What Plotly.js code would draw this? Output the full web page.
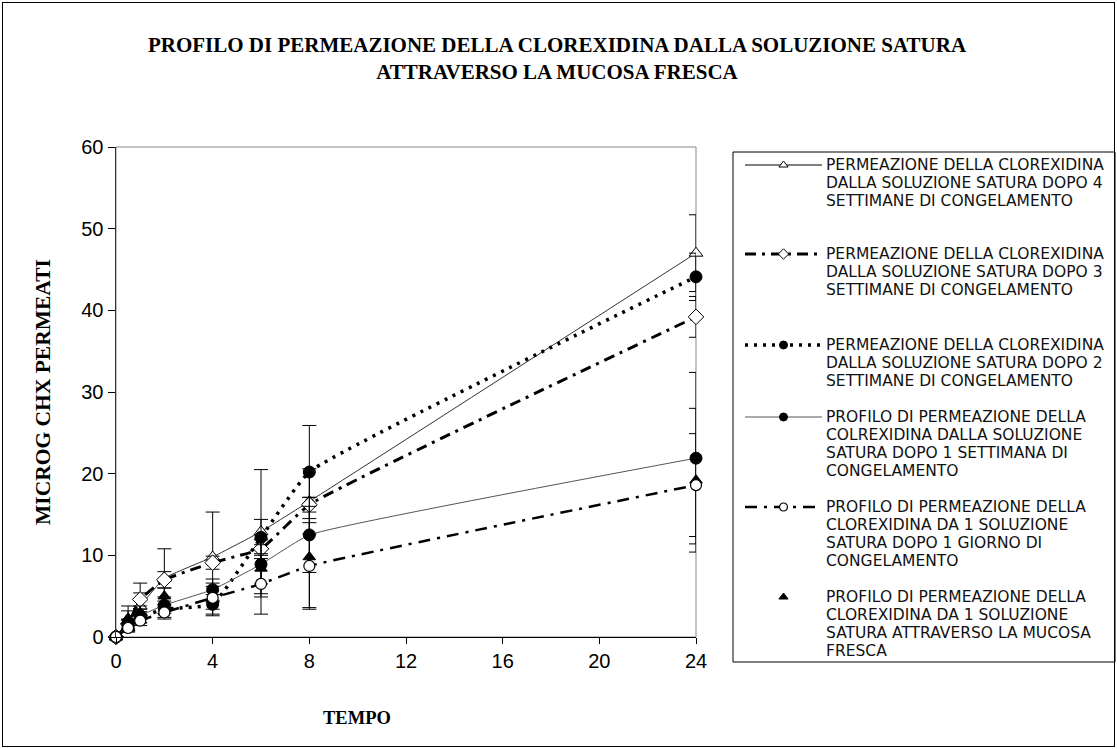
<!DOCTYPE html>
<html>
<head>
<meta charset="utf-8">
<script src="https://cdn.plot.ly/plotly-3.0.1.min.js"></script>
<style>
  html, body { margin: 0; padding: 0; background: #fff; }
  #wrap { position: relative; width: 1117px; height: 749px; }
  #chart { width: 1117px; height: 749px; }
  #frame { position: absolute; left: 2px; top: 2px; width: 1111px; height: 743px;
           border: 1px solid #000; pointer-events: none; }
</style>
</head>
<body>
<div id="wrap">
  <div id="chart"></div>
  <div id="frame"></div>
</div>
<script>
// Sampling times (hours)
const tempo = [0, 0.5, 1, 2, 4, 6, 8, 24];

// Permeated chlorhexidine (microg) and standard deviations per condition
const dopo4Settimane    = [0, 2.0, 3.8, 7.2, 9.8, 12.9, 16.6, 47.0];
const dopo4SettimaneSD  = [0, 1.2, 1.6, 3.6, 5.5, 7.6, 4.0, 4.7];
const dopo3Settimane    = [0, 1.6, 4.6, 7.0, 9.1, 10.8, 16.2, 39.2];
const dopo3SettimaneSD  = [0, 0.6, 2.0, 1.0, 0.8, 1.2, 0.9, 2.5];
const dopo2Settimane    = [0, 1.2, 2.4, 3.4, 4.0, 12.2, 20.2, 44.1];
const dopo2SettimaneSD  = [0, 0.5, 0.7, 1.0, 1.2, 2.2, 5.7, 2.9];
const dopo1Settimana    = [0, 1.5, 2.6, 3.9, 5.8, 8.9, 12.5, 21.9];
const dopo1SettimanaSD  = [0, 0.6, 0.8, 1.0, 1.3, 2.4, 4.6, 10.5];
const dopo1Giorno       = [0, 1.1, 2.0, 3.0, 4.8, 6.5, 8.7, 18.6];
const dopo1GiornoSD     = [0, 0.5, 0.6, 0.8, 1.4, 3.7, 5.3, 6.3];
const mucosaFresca      = [0, 2.3, 3.0, 5.0, 4.6, 8.4, 9.8, 19.2];
const mucosaFrescaSD    = [0, 1.5, 0.8, 1.0, 2.0, 3.5, 6.2, 8.8];

// Legend labels
const etichette = [
  'PERMEAZIONE DELLA CLOREXIDINA<br>DALLA SOLUZIONE SATURA DOPO 4<br>SETTIMANE DI CONGELAMENTO',
  'PERMEAZIONE DELLA CLOREXIDINA<br>DALLA SOLUZIONE SATURA DOPO 3<br>SETTIMANE DI CONGELAMENTO',
  'PERMEAZIONE DELLA CLOREXIDINA<br>DALLA SOLUZIONE SATURA DOPO 2<br>SETTIMANE DI CONGELAMENTO',
  'PROFILO DI PERMEAZIONE DELLA<br>COLREXIDINA DALLA SOLUZIONE<br>SATURA DOPO 1 SETTIMANA DI<br>CONGELAMENTO',
  'PROFILO DI PERMEAZIONE DELLA<br>CLOREXIDINA DA 1 SOLUZIONE<br>SATURA DOPO 1 GIORNO DI<br>CONGELAMENTO',
  'PROFILO DI PERMEAZIONE DELLA<br>CLOREXIDINA DA 1 SOLUZIONE<br>SATURA ATTRAVERSO LA MUCOSA<br>FRESCA'
];

const xTicks = [0, 4, 8, 12, 16, 20, 24];
const yTicks = [0, 10, 20, 30, 40, 50, 60];

// ---- page geometry (pixels) ----
const W = 1117, H = 749;
const M = { l: 116, r: 2, t: 147, b: 80 };
const PW = W - M.l - M.r, PH = H - M.t - M.b;
const px2x = px => (px - M.l) / PW;
const py2y = py => (H - M.b - py) / PH;
const plotRight = 696, plotBottom = 637;

// ---- series styling ----
const SMOOTH = 0.35;
const serie = [
  { y: dopo4Settimane, sd: dopo4SettimaneSD,
    line: { color: '#333', width: 1, dash: 'solid', shape: 'spline', smoothing: SMOOTH },
    marker: { symbol: 'triangle-up', size: 12, color: '#fff', line: { color: '#000', width: 1 } }, lm: 8 },
  { y: dopo3Settimane, sd: dopo3SettimaneSD,
    line: { color: '#000', width: 3, dash: '11px,6px,3px,6px', shape: 'spline', smoothing: SMOOTH },
    marker: { symbol: 'diamond', size: 12, color: '#fff', line: { color: '#000', width: 1 } }, lm: 8 },
  { y: dopo2Settimane, sd: dopo2SettimaneSD,
    line: { color: '#000', width: 3.5, dash: '3px,6px', shape: 'spline', smoothing: SMOOTH },
    marker: { symbol: 'circle', size: 12, color: '#000', line: { color: '#000', width: 1 } }, lm: 8 },
  { y: dopo1Settimana, sd: dopo1SettimanaSD,
    line: { color: '#555', width: 1, dash: 'solid', shape: 'spline', smoothing: SMOOTH },
    marker: { symbol: 'circle', size: 12, color: '#000', line: { color: '#000', width: 1 } }, lm: 8 },
  { y: dopo1Giorno, sd: dopo1GiornoSD,
    line: { color: '#000', width: 2.5, dash: '12px,7px,3px,7px', shape: 'spline', smoothing: SMOOTH },
    marker: { symbol: 'circle', size: 11, color: '#fff', line: { color: '#000', width: 1.2 } }, lm: 8 },
  { y: mucosaFresca, sd: mucosaFrescaSD, line: null,
    marker: { symbol: 'triangle-up', size: 11, color: '#000', line: { color: '#000', width: 1 } }, lm: 8 }
];

// draw order: fresh-mucosa triangles sit under the 1-day open circles
const ordine = [0, 1, 2, 3, 5, 4];

const traces = [];
ordine.forEach(i => {
  const s = serie[i];
  traces.push({
    x: tempo, y: s.y, type: 'scatter',
    mode: s.line ? 'lines+markers' : 'markers',
    line: s.line || undefined,
    marker: s.marker,
    error_y: { type: 'data', array: s.sd, visible: true, color: '#000', thickness: 1, width: 7 },
    cliponaxis: false, showlegend: false, hoverinfo: 'x+y',
    xaxis: 'x', yaxis: 'y'
  });
});

// ---- hand-laid legend: sample strokes on an auxiliary axis pair ----
const righe = [165, 254, 345, 417, 507, 597];   // first text line of each entry
const INTERLINEA = 18;
const annotations = [];
serie.forEach((s, i) => {
  const r = righe[i];
  if (s.line) {
    traces.push({
      x: [0, 1], y: [r, r], xaxis: 'x2', yaxis: 'y2', type: 'scatter', mode: 'lines',
      line: { color: s.line.color === '#333' ? '#000' : s.line.color, width: s.line.width,
              dash: s.line.dash },
      showlegend: false, hoverinfo: 'skip'
    });
  }
  traces.push({
    x: [0.5], y: [r], xaxis: 'x2', yaxis: 'y2', type: 'scatter', mode: 'markers',
    marker: Object.assign({}, s.marker, { size: s.lm }),
    showlegend: false, hoverinfo: 'skip'
  });
  etichette[i].split('<br>').forEach((riga, k) => {
    annotations.push({
      xref: 'paper', yref: 'y2', x: px2x(824), y: r + k * INTERLINEA,
      xanchor: 'left', yanchor: 'middle', align: 'left', showarrow: false,
      text: riga,
      font: { family: 'DejaVu Sans, sans-serif', size: 15.5, color: '#111' }
    });
  });
});

// axis titles
annotations.push({
  xref: 'paper', yref: 'paper', x: px2x(43), y: py2y(392), textangle: -90,
  showarrow: false, xanchor: 'center', yanchor: 'middle',
  text: '<b>MICROG CHX PERMEATI</b>',
  font: { family: 'Liberation Serif, Times New Roman, serif', size: 21.5, color: '#000' }
});
annotations.push({
  xref: 'paper', yref: 'paper', x: px2x(357), y: py2y(718),
  showarrow: false, xanchor: 'center', yanchor: 'middle',
  text: '<b>TEMPO</b>',
  font: { family: 'Liberation Serif, Times New Roman, serif', size: 18.5, color: '#000' }
});

const layout = {
  width: W, height: H,
  margin: M,
  paper_bgcolor: '#fff', plot_bgcolor: 'rgba(0,0,0,0)',
  showlegend: false,
  title: {
    text: '<b>PROFILO DI PERMEAZIONE DELLA CLOREXIDINA DALLA SOLUZIONE SATURA<br>ATTRAVERSO LA MUCOSA FRESCA</b>',
    font: { family: 'Liberation Serif, Times New Roman, serif', size: 21, color: '#000' },
    xref: 'container', yref: 'container', x: 557 / W, xanchor: 'center',
    y: 1 - 52 / H, yanchor: 'top'
  },
  xaxis: {
    domain: [0, px2x(plotRight)], range: [0, 24], tickvals: xTicks,
    showgrid: false, zeroline: false, showline: true, linecolor: '#000', linewidth: 1,
    ticks: 'outside', ticklen: 6, tickcolor: '#000',
    tickfont: { family: 'Liberation Sans, Arial, sans-serif', size: 20, color: '#000' },
    anchor: 'y', fixedrange: true
  },
  yaxis: {
    domain: [py2y(plotBottom), 1], range: [0, 60], tickvals: yTicks,
    showgrid: false, zeroline: false, showline: true, linecolor: '#333', linewidth: 1.5,
    ticks: 'outside', ticklen: 7, tickcolor: '#000',
    tickfont: { family: 'Liberation Sans, Arial, sans-serif', size: 20, color: '#000' },
    anchor: 'x', fixedrange: true
  },
  xaxis2: { domain: [px2x(745), px2x(822)], range: [0, 1], visible: false, anchor: 'y2', fixedrange: true },
  yaxis2: { domain: [0, 1], range: [H - M.b, M.t], visible: false, anchor: 'x2', fixedrange: true },
  shapes: [
    { type: 'rect', xref: 'paper', yref: 'paper', layer: 'below',
      x0: 0, x1: px2x(plotRight), y0: py2y(plotBottom), y1: 1,
      line: { color: '#888', width: 1 } },
    { type: 'rect', xref: 'paper', yref: 'paper', layer: 'below',
      x0: px2x(733), x1: px2x(1115), y0: py2y(662), y1: py2y(152),
      line: { color: '#000', width: 1 } }
  ],
  annotations: annotations
};

Plotly.newPlot('chart', traces, layout, { staticPlot: true, displayModeBar: false });
</script>
</body>
</html>
